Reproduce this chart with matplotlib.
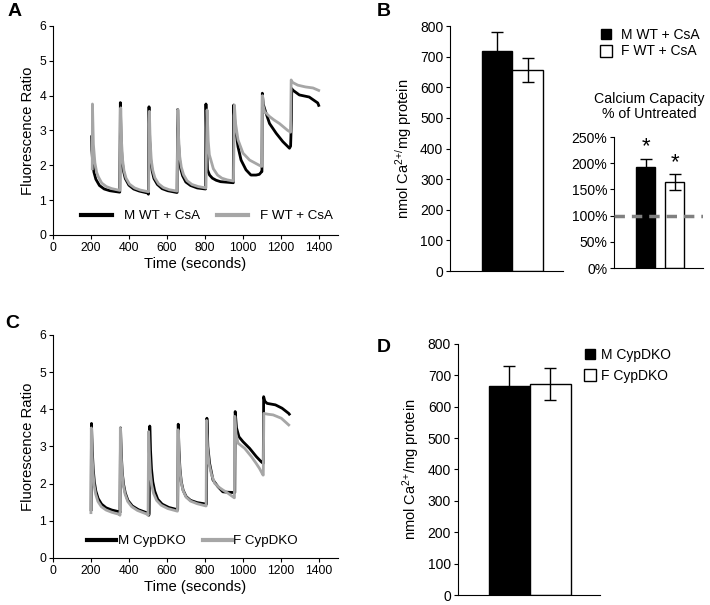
import matplotlib
matplotlib.use("Agg")
import matplotlib.pyplot as plt
from matplotlib.lines import Line2D

plt.rcParams['font.family'] = ['Liberation Sans', 'DejaVu Sans']
plt.rcParams['mathtext.default'] = 'regular'

# ---- Panel A traces (time s, fluorescence ratio) ----
a_m_t = [204, 205, 209, 216, 226, 245, 270, 300, 350,
         352, 355, 359, 364, 371, 381, 400, 425, 455, 502,
         503, 506, 510, 515, 522, 532, 550, 575, 605, 652,
         654, 657, 661, 666, 673, 683, 700, 725, 760, 803,
         804, 806, 810, 814, 825, 840, 860, 883, 950,
         950, 952, 960, 975, 991, 1017, 1043, 1070, 1087, 1100,
         1101, 1103, 1108, 1120, 1141, 1176, 1211, 1246, 1252, 1254,
         1256, 1258, 1263, 1298, 1350, 1395, 1400]
a_m_v = [2.82, 2.44, 2.1, 1.8, 1.6, 1.42, 1.32, 1.27, 1.23,
         1.23, 3.8, 2.7, 2.15, 1.85, 1.62, 1.43, 1.32, 1.26, 1.2,
         1.17, 3.68, 2.7, 2.15, 1.85, 1.62, 1.45, 1.33, 1.27, 1.22,
         1.22, 3.6, 2.7, 2.2, 1.9, 1.7, 1.52, 1.42, 1.35, 1.32,
         1.32, 3.76, 2.6, 1.87, 1.72, 1.63, 1.57, 1.53, 1.5,
         1.5, 3.73, 3.1, 2.53, 2.15, 1.87, 1.72, 1.72, 1.74, 1.82,
         1.82, 4.07, 3.75, 3.54, 3.2, 2.92, 2.68, 2.49, 2.55, 2.9,
         3.3, 4.2, 4.16, 4.02, 3.96, 3.79, 3.72]
a_f_t = [207, 208, 213, 221, 230, 239, 257, 281, 310, 352,
         353, 357, 361, 367, 374, 385, 403, 430, 460, 503,
         504, 508, 512, 518, 526, 537, 556, 582, 612, 653,
         654, 658, 662, 668, 676, 688, 706, 732, 765, 805,
         806, 812, 818, 824, 832, 845, 867, 890, 919, 950,
         951, 956, 962, 975, 1001, 1036, 1070, 1087, 1100,
         1101, 1104, 1108, 1115, 1141, 1165, 1193, 1215, 1237, 1252,
         1255, 1262, 1290, 1330, 1370, 1400]
a_f_v = [1.9, 3.76, 2.6, 2.07, 1.8, 1.67, 1.49, 1.39, 1.33, 1.28,
         1.28, 3.65, 2.7, 2.15, 1.85, 1.63, 1.46, 1.35, 1.29, 1.24,
         1.24, 3.55, 2.7, 2.15, 1.85, 1.64, 1.47, 1.36, 1.3, 1.26,
         1.26, 3.6, 2.8, 2.25, 1.95, 1.73, 1.56, 1.45, 1.39, 1.35,
         1.35, 3.59, 2.7, 2.3, 2.15, 1.9, 1.72, 1.63, 1.58, 1.55,
         1.55, 3.73, 3.2, 2.73, 2.35, 2.15, 2.05, 2.0, 1.97,
         1.97, 4.0, 3.7, 3.54, 3.4, 3.3, 3.2, 3.1, 3.0, 2.95,
         4.45, 4.38, 4.3, 4.25, 4.22, 4.15]

# ---- Panel C traces ----
c_m_t = [201, 203, 207, 212, 218, 226, 238, 256, 280, 310, 352,
         353, 356, 360, 365, 372, 381, 395, 418, 450, 503,
         505, 507, 510, 514, 519, 526, 536, 552, 575, 610, 656,
         657, 660, 664, 669, 676, 686, 702, 725, 760, 808,
         809, 811, 816, 825, 843, 869, 895, 920, 957,
         958, 960, 967, 980, 1001, 1036, 1071, 1097, 1107,
         1108, 1110, 1116, 1128, 1172, 1207, 1242, 1245]
c_m_v = [1.3, 3.62, 2.9, 2.4, 2.05, 1.8, 1.6, 1.45, 1.35, 1.29, 1.24,
         1.22, 3.5, 2.8, 2.3, 1.98, 1.75, 1.55, 1.4, 1.3, 1.2,
         1.15, 1.2, 3.55, 2.9, 2.4, 2.05, 1.8, 1.58, 1.45, 1.36, 1.3,
         1.3, 3.6, 2.9, 2.4, 2.05, 1.82, 1.65, 1.55, 1.49, 1.45,
         1.45, 3.76, 3.0, 2.55, 2.1, 1.92, 1.78, 1.77, 1.76,
         1.76, 3.94, 3.5, 3.26, 3.13, 2.95, 2.73, 2.59, 2.55,
         2.55, 4.34, 4.22, 4.16, 4.12, 4.03, 3.89, 3.87]
c_f_t = [200, 202, 206, 211, 217, 225, 237, 255, 280, 310, 352,
         353, 355, 359, 364, 371, 380, 394, 415, 445, 500,
         501, 504, 508, 513, 520, 530, 546, 570, 605, 655,
         656, 659, 663, 668, 675, 685, 701, 725, 760, 806,
         807, 809, 814, 822, 835, 852, 875, 895, 920, 955,
         956, 958, 964, 975, 1010, 1045, 1070, 1088, 1107,
         1108, 1111, 1130, 1160, 1203, 1242]
c_f_v = [1.22, 3.5, 2.8, 2.3, 1.95, 1.72, 1.52, 1.38, 1.29, 1.23, 1.17,
         1.15, 3.5, 2.8, 2.3, 1.95, 1.72, 1.52, 1.38, 1.28, 1.17,
         1.15, 3.4, 2.8, 2.3, 1.97, 1.74, 1.55, 1.42, 1.33, 1.26,
         1.26, 3.45, 2.85, 2.4, 2.05, 1.82, 1.64, 1.53, 1.46, 1.4,
         1.4, 3.7, 3.0, 2.55, 2.25, 2.01, 1.9, 1.83, 1.75, 1.62,
         1.62, 3.81, 3.35, 3.09, 2.95, 2.73, 2.55, 2.41, 2.23,
         2.23, 3.89, 3.87, 3.85, 3.76, 3.58]

# ---- Bar data ----
b_labels = ['M WT + CsA', 'F WT + CsA']
b_means = [720, 655]
b_errs = [60, 39]
pct_means = [192, 164]
pct_errs = [17, 15]
d_labels = ['M CypDKO', 'F CypDKO']
d_means = [665, 673]
d_errs = [65, 51]

BLACK = '#000000'
GREY = '#a6a6a6'

fig = plt.figure(figsize=(7.1, 6.05), dpi=100)


def style(ax, size, xticks=True):
    for s in ['top', 'right']:
        ax.spines[s].set_visible(False)
    ax.tick_params(labelsize=size, length=3, width=0.8, direction='out', pad=2)
    if not xticks:
        ax.set_xticks([])


def trace_panel(rect, mt, mv, ft, fv, labels, leg_anchor, hlen, textpad, colsp):
    ax = fig.add_axes(rect)
    ax.plot(mt, mv, color=BLACK, lw=2.0, solid_joinstyle='round')
    ax.plot(ft, fv, color=GREY, lw=2.0, solid_joinstyle='round')
    ax.set_xlim(0, 1500)
    ax.set_ylim(0, 6)
    ax.set_xticks(range(0, 1401, 200))
    ax.set_yticks(range(0, 7))
    ax.set_xlabel('Time (seconds)', fontsize=10.7, labelpad=2)
    ax.set_ylabel('Fluorescence Ratio', fontsize=10.7, labelpad=3)
    style(ax, 8.8)
    handles = [Line2D([], [], color=BLACK, lw=3), Line2D([], [], color=GREY, lw=3)]
    ax.legend(handles, labels, loc='center', bbox_to_anchor=leg_anchor, ncol=2,
              frameon=False, fontsize=9.6, handlelength=hlen,
              handletextpad=textpad, columnspacing=colsp)
    return ax


trace_panel([0.0746, 0.6116, 0.401, 0.3455], a_m_t, a_m_v, a_f_t, a_f_v,
            b_labels, (0.54, 0.09), 2.3, 0.9, 1.3)
trace_panel([0.0746, 0.0777, 0.401, 0.3686], c_m_t, c_m_v, c_f_t, c_f_v,
            d_labels, (0.49, 0.075), 2.2, 0.1, 1.3)

# ---- Panel B main bars ----
axb = fig.add_axes([0.634, 0.552, 0.159, 0.405])
axb.bar([0, 1], b_means, width=1.0, color=['black', 'white'], edgecolor='black', lw=1)
axb.errorbar([0, 1], b_means, yerr=b_errs, fmt='none', ecolor='black', elinewidth=1,
             capsize=4, capthick=1)
axb.set_xlim(-1.54, 2.16)
axb.set_ylim(0, 800)
axb.set_yticks(range(0, 801, 100))
axb.set_ylabel(r'nmol Ca$^{2\!+\!/}$mg protein', fontsize=10.5, labelpad=4)
style(axb, 10, xticks=False)

# ---- Panel B inset ----
axi = fig.add_axes([0.865, 0.557, 0.125, 0.2165])
axi.bar([0, 1], pct_means, width=0.66, color=['black', 'white'], edgecolor='black', lw=1)
axi.errorbar([0, 1], pct_means, yerr=pct_errs, fmt='none', ecolor='black', elinewidth=1,
             capsize=4, capthick=1)
axi.axhline(100, color='#808080', lw=2.5, ls=(0, (3, 2)), zorder=3)
for x, m, e in zip([0, 1], pct_means, pct_errs):
    axi.text(x, m + e + 2, '*', ha='center', va='bottom', fontsize=16)
axi.set_xlim(-1.1, 1.97)
axi.set_ylim(0, 250)
axi.set_yticks(range(0, 251, 50))
axi.set_yticklabels([f'{v}%' for v in range(0, 251, 50)])
style(axi, 10, xticks=False)
fig.text(0.914, 0.824, 'Calcium Capacity\n% of Untreated', ha='center', va='center',
         fontsize=10.2, linespacing=1.15)

# ---- Panel D bars ----
axd = fig.add_axes([0.645, 0.0165, 0.2, 0.415])
axd.bar([0, 1], d_means, width=1.0, color=['black', 'white'], edgecolor='black', lw=1)
axd.errorbar([0, 1], d_means, yerr=d_errs, fmt='none', ecolor='black', elinewidth=1,
             capsize=4, capthick=1)
axd.set_xlim(-1.256, 2.21)
axd.set_ylim(0, 800)
axd.set_yticks(range(0, 801, 100))
axd.set_ylabel(r'nmol Ca$^{2\!+\!}$/mg protein', fontsize=10.5, labelpad=4)
style(axd, 10, xticks=False)


# ---- square-marker legends ----
def sq_legend(labels, anchor, spacing, pad):
    h = [Line2D([], [], ls='none', marker='s', markersize=7, mfc='black', mec='black'),
         Line2D([], [], ls='none', marker='s', markersize=8, mfc='white', mec='black')]
    fig.legend(h, labels, loc='upper left', bbox_to_anchor=anchor, frameon=False,
               fontsize=10, handlelength=1.0, handletextpad=pad, labelspacing=spacing)


sq_legend(b_labels, (0.826, 0.975), 0.2, 0.6)
sq_legend(d_labels, (0.803, 0.446), 0.5, 0.35)

# ---- panel letters ----
for lbl, x, y in [('A', 0.01, 0.995), ('B', 0.53, 0.995), ('C', 0.008, 0.479), ('D', 0.53, 0.44)]:
    fig.text(x, y, lbl, fontsize=14, fontweight='bold', va='top')

fig.savefig('out.png', dpi=100)
